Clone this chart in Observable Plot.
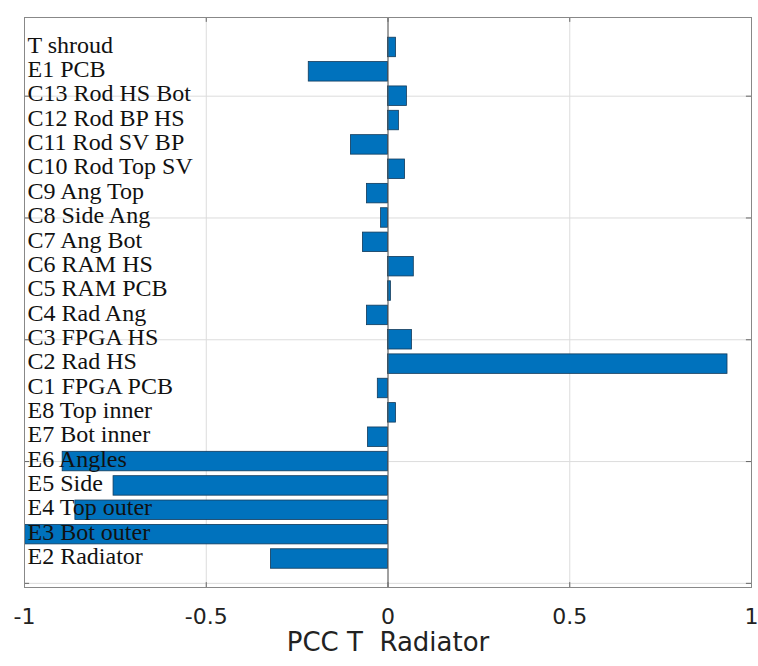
<!DOCTYPE html>
<html>
<head>
<meta charset="utf-8">
<script src="https://cdn.jsdelivr.net/npm/d3@7"></script>
<script src="https://cdn.jsdelivr.net/npm/@observablehq/plot@0.6"></script>
<style>
  html, body { margin: 0; padding: 0; background: #fff; }
  svg text { white-space: pre; }
</style>
</head>
<body>
<div id="chart"></div>
<script>
// Categories, top to bottom
const categories = [
  "T shroud", "E1 PCB", "C13 Rod HS Bot", "C12 Rod BP HS", "C11 Rod SV BP",
  "C10 Rod Top SV", "C9 Ang Top", "C8 Side Ang", "C7 Ang Bot", "C6 RAM HS",
  "C5 RAM PCB", "C4 Rad Ang", "C3 FPGA HS", "C2 Rad HS", "C1 FPGA PCB",
  "E8 Top inner", "E7 Bot inner", "E6 Angles", "E5 Side", "E4 Top outer",
  "E3 Bot outer", "E2 Radiator"
];
// PCC with T Radiator
const values = [
  0.022, -0.218, 0.052, 0.030, -0.102,
  0.047, -0.058, -0.019, -0.069, 0.071,
  0.008, -0.058, 0.066, 0.934, -0.028,
  0.022, -0.055, -0.895, -0.755, -0.860,
  -0.998, -0.322
];
const xTicks = [-1, -0.5, 0, 0.5, 1];
const yTicks = [0, 5, 10, 15, 20];
const xLabel = "PCC T  Radiator";

const n = categories.length;
const data = categories.map((c, i) => ({name: c, value: values[i], pos: n - i}));
const yDomain = [-0.17, 23.23];
const barWidth = 0.8;

const chart = Plot.plot({
  width: 758,
  height: 666,
  marginLeft: 24,
  marginRight: 7,
  marginTop: 17,
  marginBottom: 79,
  style: {background: "#fff", overflow: "visible"},
  x: {domain: [-1, 1]},
  y: {domain: yDomain, axis: null},
  marks: [
    Plot.gridX(xTicks, {stroke: "#dcdcdc", strokeOpacity: 1}),
    Plot.gridY(yTicks, {stroke: "#dcdcdc", strokeOpacity: 1}),
    Plot.rectX(data, {
      x1: 0, x2: "value",
      y1: d => d.pos - barWidth / 2, y2: d => d.pos + barWidth / 2,
      fill: "#0072BD", stroke: "#123a5a", strokeWidth: 0.8
    }),
    Plot.ruleX([0], {stroke: "#555", strokeWidth: 1}),
    Plot.text(data, {
      x: -1, y: "pos", text: "name", textAnchor: "start", lineAnchor: "middle",
      dx: 3, dy: -2.5, fontSize: 24, fontFamily: "Liberation Serif", fill: "#111"
    }),
    // inward ticks
    Plot.ruleX(xTicks, {x: d => d, y1: yDomain[0], y2: yDomain[0] + 0.2, stroke: "#666"}),
    Plot.ruleX(xTicks, {x: d => d, y1: yDomain[1], y2: yDomain[1] - 0.2, stroke: "#666"}),
    Plot.ruleY(yTicks, {y: d => d, x1: -1, x2: -1 + 0.014, stroke: "#666"}),
    Plot.ruleY(yTicks, {y: d => d, x1: 1, x2: 1 - 0.014, stroke: "#666"}),
    Plot.frame({stroke: "#888"}),
    Plot.axisX(xTicks, {
      anchor: "bottom", tickSize: 0, tickPadding: 21, fontSize: 22,
      fontFamily: "DejaVu Sans", fill: "#222", label: null,
      tickFormat: d => String(d)
    }),
    Plot.text([xLabel], {
      frameAnchor: "bottom", text: d => d, lineAnchor: "top", dy: 45,
      fontSize: 26, fontFamily: "DejaVu Sans", fill: "#222"
    })
  ]
});
document.getElementById("chart").appendChild(chart);
</script>
</body>
</html>
